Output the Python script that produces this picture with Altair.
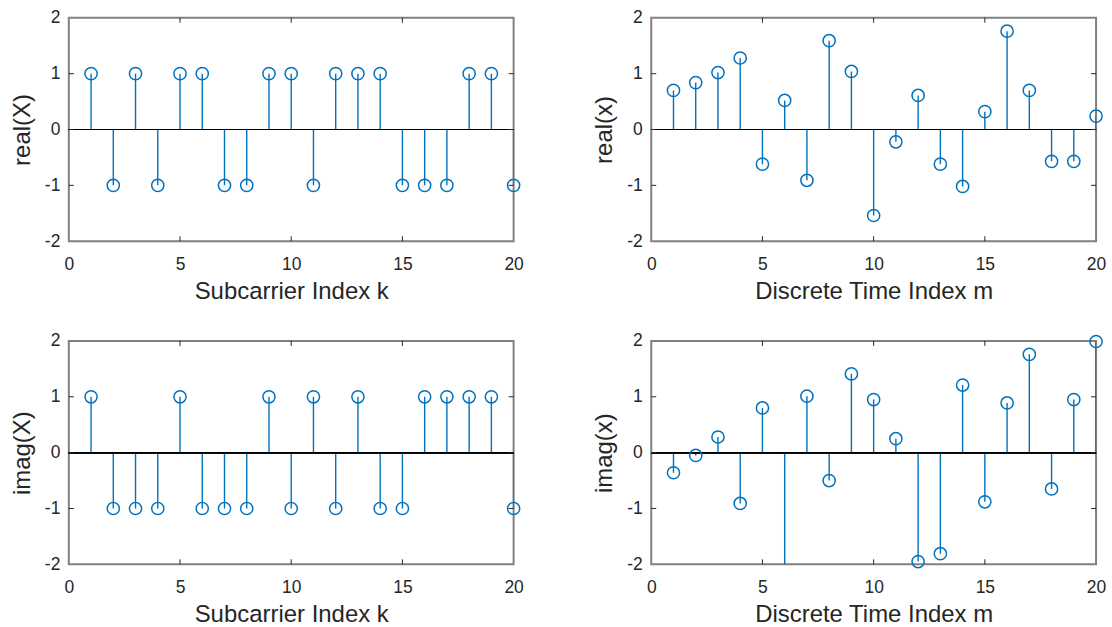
import altair as alt
import pandas as pd

idx = list(range(1, 21))
real_X = [1, -1, 1, -1, 1, 1, -1, -1, 1, 1, -1, 1, 1, 1, -1, -1, -1, 1, 1, -1]
imag_X = [1, -1, -1, -1, 1, -1, -1, -1, 1, -1, 1, -1, 1, -1, -1, 1, 1, 1, 1, -1]
real_x = [0.70, 0.84, 1.02, 1.28, -0.62, 0.52, -0.91, 1.59, 1.04, -1.54,
          -0.22, 0.61, -0.62, -1.02, 0.32, 1.76, 0.70, -0.57, -0.57, 0.24]
imag_x = [-0.36, -0.05, 0.28, -0.91, 0.80, -2.20, 1.01, -0.50, 1.41, 0.95,
          0.25, -1.95, -1.81, 1.21, -0.88, 0.89, 1.76, -0.65, 0.95, 1.99]

x_ticks = [0, 5, 10, 15, 20]
y_ticks = [-2, -1, 0, 1, 2]

W, H = 446, 224
BLUE = "#0072BD"
TXT = "#262626"
FONT = "Liberation Sans"
TL = 5


def panel(vals, ytitle, xtitle):
    df = pd.DataFrame({"k": idx, "v": vals})
    xs = alt.Scale(domain=[0, 20], nice=False, zero=False)
    ys = alt.Scale(domain=[-2, 2], nice=False, zero=False)
    xax = alt.Axis(values=x_ticks, ticks=False, domain=False, grid=False,
                   labelFontSize=17.5, labelFont=FONT, labelColor=TXT,
                   labelPadding=14, labelFlush=False, labelOverlap=False,
                   titleFontSize=24, titleFont=FONT, titleColor=TXT,
                   titleFontWeight="normal", titlePadding=7, title=xtitle)
    yax = alt.Axis(values=y_ticks, ticks=False, domain=False, grid=False,
                   labelFontSize=17.5, labelFont=FONT, labelColor=TXT,
                   labelPadding=9, labelFlush=False, labelOverlap=False,
                   labelExpr="datum.value < 0 ? '-' + (-datum.value) : '' + datum.value",
                   titleFontSize=24, titleFont=FONT, titleColor=TXT,
                   titleFontWeight="normal", titlePadding=10, title=ytitle)
    base = alt.Chart(df)
    stems = base.mark_rule(color=BLUE, strokeWidth=1.4, clip=True).transform_calculate(
        z="0").encode(
        x=alt.X("k:Q", scale=xs, axis=xax),
        y=alt.Y("v:Q", scale=ys, axis=yax),
        y2="z:Q",
    )
    zero = base.mark_rule(color="black", strokeWidth=1).encode(
        y=alt.datum(0), x=alt.value(0), x2=alt.value(W))
    pts = base.mark_point(shape="circle", filled=False, color=BLUE, size=150,
                          strokeWidth=1.5, opacity=1).transform_filter(
        "datum.v >= -2 && datum.v <= 2").encode(x="k:Q", y="v:Q")
    xt = pd.DataFrame({"t": x_ticks[1:-1]})
    yt = pd.DataFrame({"t": y_ticks[1:-1]})
    tb = alt.Chart(xt).mark_rule(color=TXT, strokeWidth=1).encode(
        x="t:Q", y=alt.value(H), y2=alt.value(H - TL))
    tt = alt.Chart(xt).mark_rule(color=TXT, strokeWidth=1).encode(
        x="t:Q", y=alt.value(0), y2=alt.value(TL))
    tl = alt.Chart(yt).mark_rule(color=TXT, strokeWidth=1).encode(
        y="t:Q", x=alt.value(0), x2=alt.value(TL))
    tr = alt.Chart(yt).mark_rule(color=TXT, strokeWidth=1).encode(
        y="t:Q", x=alt.value(W), x2=alt.value(W - TL))
    return alt.layer(stems, zero, pts, tb, tt, tl, tr).properties(width=W, height=H)


chart = alt.concat(
    panel(real_X, "real(X)", "Subcarrier Index k"),
    panel(real_x, "real(x)", "Discrete Time Index m"),
    panel(imag_X, "imag(X)", "Subcarrier Index k"),
    panel(imag_x, "imag(x)", "Discrete Time Index m"),
    columns=2, spacing={"row": 100, "column": 138}, bounds="flush",
).properties(
    padding={"left": 9, "top": 7, "right": 5, "bottom": 5},
    background="white",
).configure_view(stroke="#808080", strokeWidth=2)

chart.save("out.html", embed_options={"renderer": "svg", "actions": False})
